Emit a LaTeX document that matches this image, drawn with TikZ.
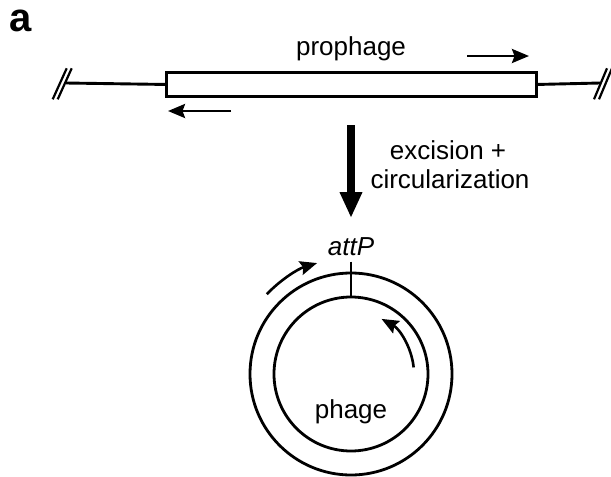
\documentclass[tikz,border=0pt]{standalone}
\usepackage{fontspec}
\setmainfont{Liberation Sans}
\usetikzlibrary{arrows.meta}
\begin{document}
\begin{tikzpicture}[x=1pt,y=-1pt,
  dna/.style={line width=2.9pt},
  brk/.style={line width=2.2pt},
  ptr/.style={line width=2.6pt,-{Stealth[length=17pt,width=14pt,inset=2.5pt]}},
  lbl/.style={inner sep=0pt,font=\fontsize{26}{30}\selectfont},
  ring/.style={line width=2.8pt}]
\useasboundingbox (0,0) rectangle (611,477);
% label
\node[anchor=base west,inner sep=0pt,font=\fontsize{40}{44}\selectfont\bfseries] (lab) at (9,31) {a};
% chromosome
\coordinate (L0) at (66,83);
\coordinate (R0) at (600,83);
\node[draw,dna,minimum width=370pt,minimum height=24pt,inner sep=0pt,anchor=north west] (pro) at (165,71) {};
\draw[dna] (L0) -- (pro.west);
\draw[dna] (pro.east) -- (R0);
% break marks
\draw[brk] (52.7,99.3) -- (66.7,68.3);
\draw[brk] (57.7,99.3) -- (71.7,68.3);
\draw[brk] (594,99.3) -- (607,68.3);
\draw[brk] (599,99.3) -- (612,68.3);
\node[lbl,anchor=base] (tpro) at (351,55) {prophage};
\coordinate (a1s) at (467,56); \coordinate (a1e) at (529,56);
\draw[ptr] (a1s) -- (a1e);
\coordinate (a2s) at (231,111); \coordinate (a2e) at (168,111);
\draw[ptr] (a2s) -- (a2e);
% big arrow
\coordinate (b1) at (351,125); \coordinate (b2) at (351,218);
\draw[line width=8.5pt,-{Triangle[length=26pt,width=21pt]}] (b1) -- (b2);
\node[lbl,anchor=base] (t1) at (448,159) {excision +};
\node[lbl,anchor=base] (t2) at (450,188) {circularization};
% circles
\coordinate (c) at (351,374);
\draw[ring] (c) circle[radius=101];
\draw[ring] (c) circle[radius=77];
\draw[ring] (351,261.5) -- (351,297);
\node[lbl,anchor=base,font=\fontsize{26}{30}\selectfont\itshape] (attp) at (351,255) {attP};
\node[lbl,anchor=base] (ph) at (351,418) {phage};
\draw[ptr] ([shift={(-136.5:116)}]c) arc[start angle=-136.5,end angle=-107,radius=116];
\draw[ptr] ([shift={(-6:63)}]c) arc[start angle=-6,end angle=-61,radius=63];
\end{tikzpicture}
\end{document}
